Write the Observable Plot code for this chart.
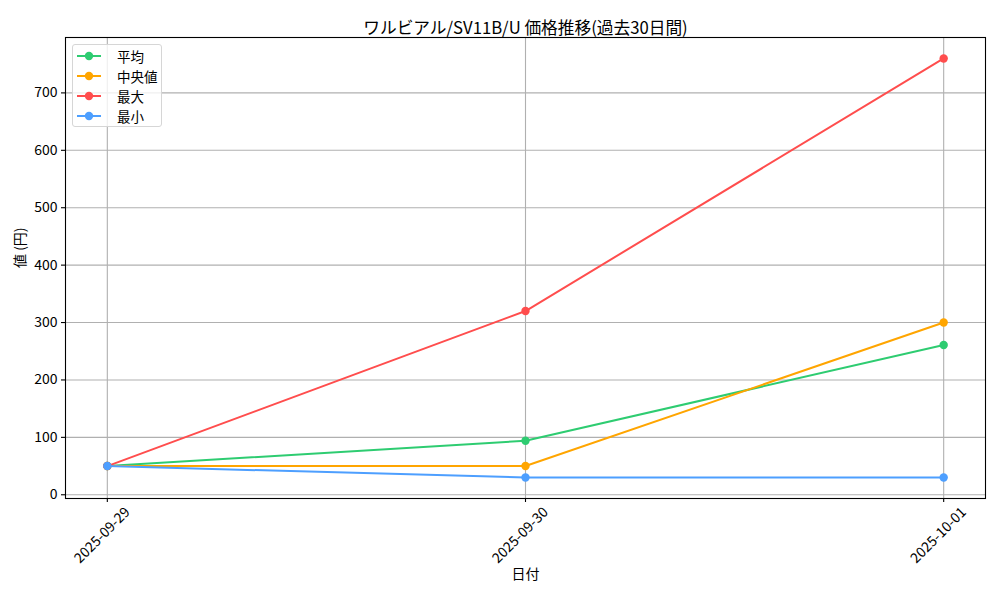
<!DOCTYPE html>
<html><head><meta charset="utf-8">
<script src="https://cdn.jsdelivr.net/npm/d3@7"></script>
<script src="https://cdn.jsdelivr.net/npm/@observablehq/plot@0.6"></script>
<style>
body{margin:0;background:#fff;font-family:"Noto Sans CJK JP",sans-serif;}
#wrap{position:relative;width:1000px;height:600px;}
#legend{position:absolute;left:72px;top:44px;width:90px;height:83px;background:rgba(255,255,255,0.8);border:1px solid #d6d6d6;border-radius:3px;font-size:13.5px;box-sizing:border-box;}
.row{position:absolute;left:0;height:20px;}
.row svg{position:absolute;left:0;top:0;}
.row span{position:absolute;left:44px;top:0;line-height:20px;white-space:nowrap;color:#000;}
</style></head>
<body><div id="wrap"><div id="legend"></div></div>
<script>
const dates = ["2025-09-29", "2025-09-30", "2025-10-01"];
const seriesNames = ["平均", "中央値", "最大", "最小"];
const avgValues = [50, 94, 261];
const medianValues = [50, 50, 300];
const maxValues = [50, 320, 760];
const minValues = [50, 30, 30];
const yTicks = [0, 100, 200, 300, 400, 500, 600, 700];
const colors = ["#2ecc71", "#ffa500", "#ff4d4d", "#4d9fff"];
const titleText = "ワルビアル/SV11B/U 価格推移(過去30日間)";
const xLabel = "日付";
const yLabel = "値 (円)";

const allSeries = [avgValues, medianValues, maxValues, minValues];
const rows = [];
allSeries.forEach((vals, si) => {
  vals.forEach((v, i) => rows.push({series: seriesNames[si], date: new Date(dates[i] + "T00:00:00Z"), value: v}));
});
const dateTicks = dates.map(d => new Date(d + "T00:00:00Z"));
const d0 = dateTicks[0], d1 = dateTicks[dateTicks.length - 1];
const span = d1 - d0;
const xDomain = [new Date(+d0 - span * 0.05), new Date(+d1 + span * 0.05)];
const fmt = d3.utcFormat("%Y-%m-%d");

const marks = [
  Plot.gridX(dateTicks, {stroke: "#b0b0b0", strokeOpacity: 1, strokeWidth: 1.1}),
  Plot.gridY(yTicks, {stroke: "#b0b0b0", strokeOpacity: 1, strokeWidth: 1.1}),
  Plot.axisX(dateTicks, {tickFormat: () => "", tickSize: 4, strokeWidth: 1.1, label: null}),
  Plot.text(dateTicks, {x: d => d, text: d => fmt(d), frameAnchor: "bottom", dy: 40, dx: -2, rotate: -45, fontSize: 14, fill: "#000"}),
  Plot.axisY(yTicks, {tickSize: 4, tickPadding: 4, fontSize: 14, strokeWidth: 1.1, label: null}),
];
seriesNames.forEach((name, si) => {
  const data = rows.filter(r => r.series === name);
  marks.push(Plot.line(data, {x: "date", y: "value", stroke: colors[si], strokeWidth: 2}));
  marks.push(Plot.dot(data, {x: "date", y: "value", fill: colors[si], r: 4.2}));
});
marks.push(Plot.frame({stroke: "#000", strokeWidth: 1.1}));
marks.push(Plot.text([titleText], {frameAnchor: "top", dy: -15, fontSize: 16.7, fill: "#000"}));
marks.push(Plot.text([xLabel], {frameAnchor: "bottom", dy: 80, fontSize: 14, fill: "#000"}));
marks.push(Plot.text([yLabel], {frameAnchor: "left", dx: -45, dy: 0, rotate: -90, fontSize: 14, fill: "#000"}));

const chart = Plot.plot({
  width: 1000, height: 600,
  marginLeft: 65, marginRight: 15, marginTop: 37, marginBottom: 102,
  style: {fontFamily: '"Noto Sans CJK JP", sans-serif', fontSize: "14px", color: "#000", background: "#fff"},
  x: {type: "utc", domain: xDomain},
  y: {domain: [-6.5, 796.5]},
  marks
});
const wrap = document.getElementById("wrap");
wrap.insertBefore(chart, wrap.firstChild);

const legend = document.getElementById("legend");
seriesNames.forEach((name, i) => {
  const row = document.createElement("div");
  row.className = "row";
  row.style.top = (1 + i * 20) + "px";
  row.innerHTML = `<svg width="40" height="20"><line x1="4" x2="28" y1="10" y2="10" stroke="${colors[i]}" stroke-width="2"/><circle cx="16" cy="10" r="4.2" fill="${colors[i]}"/></svg><span>${name}</span>`;
  legend.appendChild(row);
});
</script></body></html>
